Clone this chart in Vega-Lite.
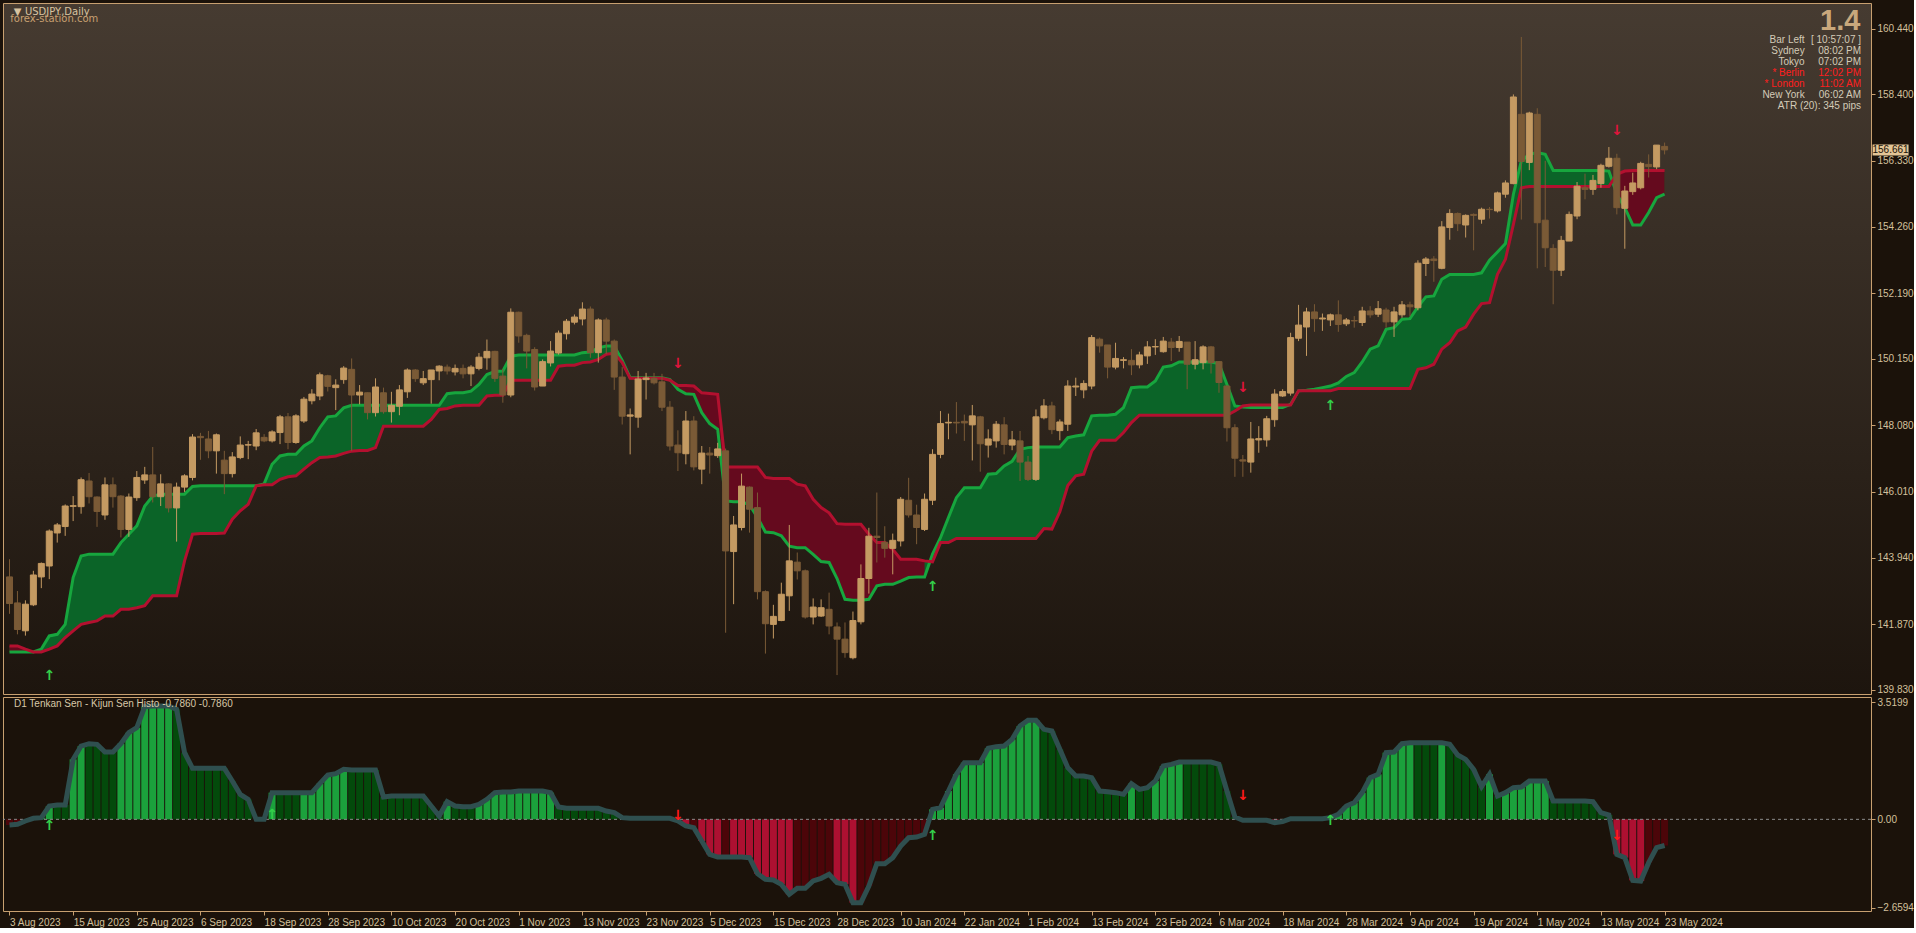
{
"$schema":"https://vega.github.io/schema/vega-lite/v6.json",
"background":"#1b120a",
"padding":{"left":2,"top":2,"right":0,"bottom":0},
"bounds":"flush",
"spacing":3,
"config":{
"font":"Liberation Sans",
"view":{"stroke":"#c8a070","strokeWidth":1},
"axis":{"domain":false,"grid":false,"labelFont":"Liberation Sans","labelFontSize":10,"labelColor":"#d3c09c","tickColor":"#c8a070","tickSize":4,"labelPadding":2,"title":null}
},
"datasets":{
"d":[
{"i":0,"o":143.35,"h":143.9,"l":142.2,"c":142.52,"t":141.01,"k":141.2,"hv":-0.17,"hc":"r","s":"bear","seg":0},
{"i":1,"o":142.54,"h":142.91,"l":141.56,"c":141.71,"t":141.01,"k":141.2,"hv":-0.15,"hc":"r","s":"bear","seg":0},
{"i":2,"o":141.67,"h":142.62,"l":141.52,"c":142.5,"t":141.01,"k":141.1,"hv":-0.05,"hc":"r","s":"bear","seg":0},
{"i":3,"o":142.48,"h":143.54,"l":142.44,"c":143.41,"t":141.01,"k":141.01,"hv":0.03,"hc":"G","s":"bull","seg":1},
{"i":4,"o":143.35,"h":143.8,"l":143.0,"c":143.77,"t":141.1,"k":141.01,"hv":0.05,"hc":"G","s":"bull","seg":1},
{"i":5,"o":143.69,"h":144.83,"l":143.28,"c":144.78,"t":141.51,"k":141.1,"hv":0.4,"hc":"G","s":"bull","seg":1},
{"i":6,"o":144.72,"h":145.03,"l":144.42,"c":144.97,"t":141.56,"k":141.2,"hv":0.43,"hc":"g","s":"bull","seg":1},
{"i":7,"o":144.92,"h":145.61,"l":144.63,"c":145.56,"t":141.87,"k":141.46,"hv":0.43,"hc":"g","s":"bull","seg":1},
{"i":8,"o":145.55,"h":145.87,"l":145.09,"c":145.57,"t":143.33,"k":141.67,"hv":1.8,"hc":"G","s":"bull","seg":1},
{"i":9,"o":145.54,"h":146.45,"l":145.32,"c":146.38,"t":144.0,"k":141.87,"hv":2.2,"hc":"G","s":"bull","seg":1},
{"i":10,"o":146.34,"h":146.59,"l":145.64,"c":145.85,"t":144.06,"k":141.93,"hv":2.27,"hc":"g","s":"bull","seg":1},
{"i":11,"o":145.84,"h":145.86,"l":144.91,"c":145.39,"t":144.06,"k":141.98,"hv":2.25,"hc":"g","s":"bull","seg":1},
{"i":12,"o":145.28,"h":146.45,"l":145.13,"c":146.22,"t":144.06,"k":142.13,"hv":2.02,"hc":"g","s":"bull","seg":1},
{"i":13,"o":146.22,"h":146.45,"l":145.51,"c":145.85,"t":144.06,"k":142.13,"hv":2.02,"hc":"g","s":"bull","seg":1},
{"i":14,"o":145.87,"h":145.9,"l":144.58,"c":144.83,"t":144.42,"k":142.34,"hv":2.27,"hc":"G","s":"bull","seg":1},
{"i":15,"o":144.83,"h":145.95,"l":144.6,"c":145.84,"t":144.68,"k":142.34,"hv":2.6,"hc":"G","s":"bull","seg":1},
{"i":16,"o":145.82,"h":146.65,"l":145.72,"c":146.45,"t":144.94,"k":142.39,"hv":2.75,"hc":"G","s":"bull","seg":1},
{"i":17,"o":146.37,"h":146.78,"l":146.25,"c":146.53,"t":145.56,"k":142.45,"hv":3.38,"hc":"G","s":"bull","seg":1},
{"i":18,"o":146.53,"h":147.4,"l":145.67,"c":145.85,"t":145.87,"k":142.76,"hv":3.4,"hc":"G","s":"bull","seg":1},
{"i":19,"o":145.85,"h":146.55,"l":145.56,"c":146.25,"t":145.93,"k":142.76,"hv":3.4,"hc":"G","s":"bull","seg":1},
{"i":20,"o":146.25,"h":146.27,"l":145.36,"c":145.5,"t":145.93,"k":142.76,"hv":3.4,"hc":"G","s":"bull","seg":1},
{"i":21,"o":145.5,"h":146.29,"l":144.45,"c":146.15,"t":145.93,"k":142.76,"hv":3.3,"hc":"g","s":"bull","seg":1},
{"i":22,"o":146.15,"h":146.55,"l":146.0,"c":146.5,"t":145.93,"k":143.85,"hv":2.0,"hc":"g","s":"bull","seg":1},
{"i":23,"o":146.45,"h":147.8,"l":146.36,"c":147.71,"t":146.17,"k":144.68,"hv":1.53,"hc":"g","s":"bull","seg":1},
{"i":24,"o":147.73,"h":147.84,"l":147.0,"c":147.69,"t":146.19,"k":144.7,"hv":1.53,"hc":"g","s":"bull","seg":1},
{"i":25,"o":147.65,"h":147.9,"l":147.05,"c":147.28,"t":146.19,"k":144.7,"hv":1.53,"hc":"g","s":"bull","seg":1},
{"i":26,"o":147.28,"h":147.82,"l":146.57,"c":147.78,"t":146.19,"k":144.7,"hv":1.53,"hc":"g","s":"bull","seg":1},
{"i":27,"o":146.99,"h":147.28,"l":145.93,"c":146.57,"t":146.19,"k":144.72,"hv":1.53,"hc":"g","s":"bull","seg":1},
{"i":28,"o":146.57,"h":147.24,"l":146.45,"c":147.09,"t":146.19,"k":145.15,"hv":1.15,"hc":"g","s":"bull","seg":1},
{"i":29,"o":147.07,"h":147.73,"l":147.02,"c":147.46,"t":146.19,"k":145.41,"hv":0.75,"hc":"g","s":"bull","seg":1},
{"i":30,"o":147.46,"h":147.59,"l":147.02,"c":147.47,"t":146.19,"k":145.61,"hv":0.6,"hc":"g","s":"bull","seg":1},
{"i":31,"o":147.43,"h":147.96,"l":147.3,"c":147.84,"t":146.19,"k":146.19,"hv":0.0,"hc":"g","s":"bull","seg":1},
{"i":32,"o":147.7,"h":147.8,"l":147.55,"c":147.59,"t":146.25,"k":146.22,"hv":0.0,"hc":"g","s":"bull","seg":1},
{"i":33,"o":147.59,"h":147.92,"l":147.54,"c":147.87,"t":146.86,"k":146.22,"hv":0.8,"hc":"G","s":"bull","seg":1},
{"i":34,"o":147.85,"h":148.4,"l":147.49,"c":148.34,"t":147.12,"k":146.39,"hv":0.8,"hc":"g","s":"bull","seg":1},
{"i":35,"o":148.34,"h":148.46,"l":147.33,"c":147.54,"t":147.17,"k":146.47,"hv":0.8,"hc":"g","s":"bull","seg":1},
{"i":36,"o":147.54,"h":148.42,"l":147.5,"c":148.37,"t":147.17,"k":146.5,"hv":0.8,"hc":"g","s":"bull","seg":1},
{"i":37,"o":148.21,"h":148.96,"l":148.15,"c":148.89,"t":147.43,"k":146.71,"hv":0.8,"hc":"G","s":"bull","seg":1},
{"i":38,"o":148.84,"h":149.2,"l":148.73,"c":149.05,"t":147.59,"k":146.91,"hv":0.8,"hc":"G","s":"bull","seg":1},
{"i":39,"o":148.99,"h":149.72,"l":148.86,"c":149.65,"t":148.0,"k":147.07,"hv":1.07,"hc":"G","s":"bull","seg":1},
{"i":40,"o":149.62,"h":149.65,"l":149.13,"c":149.29,"t":148.34,"k":147.09,"hv":1.33,"hc":"G","s":"bull","seg":1},
{"i":41,"o":149.25,"h":149.51,"l":148.55,"c":149.33,"t":148.37,"k":147.12,"hv":1.37,"hc":"G","s":"bull","seg":1},
{"i":42,"o":149.5,"h":149.92,"l":149.37,"c":149.86,"t":148.62,"k":147.2,"hv":1.5,"hc":"G","s":"bull","seg":1},
{"i":43,"o":149.82,"h":150.16,"l":147.27,"c":149.02,"t":148.7,"k":147.27,"hv":1.48,"hc":"g","s":"bull","seg":1},
{"i":44,"o":149.02,"h":149.33,"l":148.73,"c":149.11,"t":148.7,"k":147.29,"hv":1.48,"hc":"g","s":"bull","seg":1},
{"i":45,"o":149.09,"h":149.1,"l":148.26,"c":148.47,"t":148.7,"k":147.29,"hv":1.48,"hc":"g","s":"bull","seg":1},
{"i":46,"o":148.47,"h":149.54,"l":148.35,"c":149.27,"t":148.7,"k":147.38,"hv":1.48,"hc":"g","s":"bull","seg":1},
{"i":47,"o":149.09,"h":149.25,"l":148.44,"c":148.5,"t":148.7,"k":148.05,"hv":0.67,"hc":"g","s":"bull","seg":1},
{"i":48,"o":148.5,"h":149.12,"l":148.16,"c":148.7,"t":148.7,"k":148.05,"hv":0.7,"hc":"g","s":"bull","seg":1},
{"i":49,"o":148.67,"h":149.33,"l":148.39,"c":149.18,"t":148.7,"k":148.05,"hv":0.7,"hc":"g","s":"bull","seg":1},
{"i":50,"o":149.12,"h":149.85,"l":148.93,"c":149.8,"t":148.7,"k":148.05,"hv":0.7,"hc":"g","s":"bull","seg":1},
{"i":51,"o":149.8,"h":149.83,"l":149.43,"c":149.53,"t":148.7,"k":148.05,"hv":0.7,"hc":"g","s":"bull","seg":1},
{"i":52,"o":149.4,"h":149.77,"l":149.33,"c":149.53,"t":148.7,"k":148.05,"hv":0.7,"hc":"g","s":"bull","seg":1},
{"i":53,"o":149.5,"h":149.8,"l":148.75,"c":149.8,"t":148.7,"k":148.26,"hv":0.4,"hc":"g","s":"bull","seg":1},
{"i":54,"o":149.77,"h":149.95,"l":149.48,"c":149.92,"t":148.7,"k":148.57,"hv":0.1,"hc":"g","s":"bull","seg":1},
{"i":55,"o":149.89,"h":149.97,"l":149.66,"c":149.77,"t":149.06,"k":148.6,"hv":0.53,"hc":"G","s":"bull","seg":1},
{"i":56,"o":149.74,"h":149.97,"l":149.63,"c":149.85,"t":149.09,"k":148.68,"hv":0.4,"hc":"g","s":"bull","seg":1},
{"i":57,"o":149.85,"h":149.97,"l":149.54,"c":149.68,"t":149.09,"k":148.7,"hv":0.38,"hc":"g","s":"bull","seg":1},
{"i":58,"o":149.68,"h":149.95,"l":149.3,"c":149.89,"t":149.14,"k":148.7,"hv":0.38,"hc":"g","s":"bull","seg":1},
{"i":59,"o":149.85,"h":150.33,"l":149.79,"c":150.2,"t":149.35,"k":148.7,"hv":0.45,"hc":"G","s":"bull","seg":1},
{"i":60,"o":150.18,"h":150.75,"l":149.81,"c":150.38,"t":149.66,"k":148.99,"hv":0.6,"hc":"G","s":"bull","seg":1},
{"i":61,"o":150.38,"h":150.4,"l":149.43,"c":149.54,"t":149.75,"k":149.01,"hv":0.8,"hc":"G","s":"bull","seg":1},
{"i":62,"o":149.61,"h":149.83,"l":148.78,"c":149.02,"t":149.77,"k":149.01,"hv":0.82,"hc":"G","s":"bull","seg":1},
{"i":63,"o":149.02,"h":151.72,"l":148.95,"c":151.6,"t":150.23,"k":149.48,"hv":0.82,"hc":"G","s":"bull","seg":1},
{"i":64,"o":151.6,"h":151.62,"l":150.65,"c":150.86,"t":150.27,"k":149.48,"hv":0.85,"hc":"G","s":"bull","seg":1},
{"i":65,"o":150.88,"h":150.93,"l":149.85,"c":150.39,"t":150.27,"k":149.48,"hv":0.85,"hc":"G","s":"bull","seg":1},
{"i":66,"o":150.44,"h":150.51,"l":149.16,"c":149.27,"t":150.27,"k":149.48,"hv":0.85,"hc":"G","s":"bull","seg":1},
{"i":67,"o":149.3,"h":150.13,"l":149.3,"c":150.06,"t":150.27,"k":149.48,"hv":0.85,"hc":"G","s":"bull","seg":1},
{"i":68,"o":150.02,"h":150.7,"l":149.91,"c":150.39,"t":150.27,"k":149.48,"hv":0.8,"hc":"G","s":"bull","seg":1},
{"i":69,"o":150.33,"h":151.03,"l":150.28,"c":150.95,"t":150.27,"k":149.92,"hv":0.37,"hc":"g","s":"bull","seg":1},
{"i":70,"o":150.93,"h":151.39,"l":150.75,"c":151.32,"t":150.27,"k":149.95,"hv":0.33,"hc":"g","s":"bull","seg":1},
{"i":71,"o":151.29,"h":151.53,"l":151.22,"c":151.45,"t":150.27,"k":149.95,"hv":0.33,"hc":"g","s":"bull","seg":1},
{"i":72,"o":151.39,"h":151.91,"l":151.19,"c":151.7,"t":150.34,"k":150.03,"hv":0.33,"hc":"g","s":"bull","seg":1},
{"i":73,"o":151.7,"h":151.78,"l":150.18,"c":150.34,"t":150.36,"k":150.05,"hv":0.33,"hc":"g","s":"bull","seg":1},
{"i":74,"o":150.34,"h":151.41,"l":150.03,"c":151.36,"t":150.49,"k":150.13,"hv":0.33,"hc":"g","s":"bull","seg":1},
{"i":75,"o":151.36,"h":151.43,"l":150.29,"c":150.7,"t":150.55,"k":150.29,"hv":0.25,"hc":"g","s":"bull","seg":1},
{"i":76,"o":150.7,"h":150.75,"l":149.18,"c":149.58,"t":150.55,"k":150.32,"hv":0.2,"hc":"g","s":"bull","seg":1},
{"i":77,"o":149.58,"h":149.89,"l":148.1,"c":148.36,"t":150.1,"k":150.03,"hv":0.05,"hc":"g","s":"bull","seg":1},
{"i":78,"o":148.36,"h":148.6,"l":147.17,"c":148.4,"t":149.56,"k":149.54,"hv":0.03,"hc":"g","s":"bull","seg":1},
{"i":79,"o":148.33,"h":149.77,"l":148.0,"c":149.52,"t":149.56,"k":149.54,"hv":0.03,"hc":"g","s":"bull","seg":1},
{"i":80,"o":149.5,"h":149.71,"l":148.88,"c":149.55,"t":149.56,"k":149.54,"hv":0.03,"hc":"g","s":"bull","seg":1},
{"i":81,"o":149.54,"h":149.71,"l":149.35,"c":149.4,"t":149.56,"k":149.54,"hv":0.03,"hc":"g","s":"bull","seg":1},
{"i":82,"o":149.43,"h":149.68,"l":148.52,"c":148.64,"t":149.56,"k":149.54,"hv":0.03,"hc":"g","s":"bull","seg":1},
{"i":83,"o":148.64,"h":148.83,"l":147.29,"c":147.43,"t":149.5,"k":149.48,"hv":0.03,"hc":"g","s":"bull","seg":1},
{"i":84,"o":147.46,"h":147.92,"l":146.65,"c":147.22,"t":149.2,"k":149.32,"hv":-0.05,"hc":"r","s":"bear","seg":2},
{"i":85,"o":147.19,"h":148.52,"l":146.86,"c":148.21,"t":149.06,"k":149.32,"hv":-0.2,"hc":"R","s":"bear","seg":2},
{"i":86,"o":148.21,"h":148.36,"l":146.67,"c":146.78,"t":149.04,"k":149.3,"hv":-0.25,"hc":"r","s":"bear","seg":2},
{"i":87,"o":146.71,"h":147.43,"l":146.24,"c":147.21,"t":148.47,"k":149.09,"hv":-0.65,"hc":"R","s":"bear","seg":2},
{"i":88,"o":147.21,"h":147.4,"l":146.57,"c":147.15,"t":148.13,"k":149.07,"hv":-1.05,"hc":"R","s":"bear","seg":2},
{"i":89,"o":147.13,"h":147.53,"l":147.06,"c":147.34,"t":147.95,"k":149.04,"hv":-1.13,"hc":"R","s":"bear","seg":2},
{"i":90,"o":147.28,"h":147.35,"l":141.61,"c":144.16,"t":145.72,"k":146.78,"hv":-1.13,"hc":"r","s":"bear","seg":2},
{"i":91,"o":144.14,"h":145.25,"l":142.5,"c":144.97,"t":145.69,"k":146.78,"hv":-1.13,"hc":"R","s":"bear","seg":2},
{"i":92,"o":144.89,"h":146.57,"l":144.8,"c":146.18,"t":145.69,"k":146.78,"hv":-1.13,"hc":"R","s":"bear","seg":2},
{"i":93,"o":146.15,"h":146.17,"l":144.73,"c":145.46,"t":145.6,"k":146.78,"hv":-1.15,"hc":"R","s":"bear","seg":2},
{"i":94,"o":145.51,"h":145.98,"l":142.65,"c":142.89,"t":145.2,"k":146.78,"hv":-1.63,"hc":"R","s":"bear","seg":2},
{"i":95,"o":142.89,"h":142.93,"l":140.96,"c":141.89,"t":144.75,"k":146.45,"hv":-1.8,"hc":"R","s":"bear","seg":2},
{"i":96,"o":141.87,"h":142.48,"l":141.43,"c":142.12,"t":144.73,"k":146.42,"hv":-1.82,"hc":"R","s":"bear","seg":2},
{"i":97,"o":141.99,"h":143.17,"l":141.97,"c":142.81,"t":144.63,"k":146.42,"hv":-1.95,"hc":"R","s":"bear","seg":2},
{"i":98,"o":142.76,"h":144.97,"l":142.29,"c":143.85,"t":144.31,"k":146.42,"hv":-2.25,"hc":"R","s":"bear","seg":2},
{"i":99,"o":143.81,"h":144.11,"l":143.27,"c":143.54,"t":144.26,"k":146.24,"hv":-2.07,"hc":"r","s":"bear","seg":2},
{"i":100,"o":143.54,"h":143.58,"l":142.05,"c":142.1,"t":144.26,"k":146.19,"hv":-2.07,"hc":"r","s":"bear","seg":2},
{"i":101,"o":142.1,"h":142.68,"l":141.87,"c":142.41,"t":144.05,"k":145.77,"hv":-1.85,"hc":"r","s":"bear","seg":2},
{"i":102,"o":142.13,"h":142.65,"l":142.1,"c":142.39,"t":143.83,"k":145.51,"hv":-1.77,"hc":"r","s":"bear","seg":2},
{"i":103,"o":142.34,"h":142.86,"l":141.56,"c":141.82,"t":143.8,"k":145.35,"hv":-1.65,"hc":"r","s":"bear","seg":2},
{"i":104,"o":141.79,"h":141.93,"l":140.29,"c":141.41,"t":143.3,"k":145.01,"hv":-1.9,"hc":"R","s":"bear","seg":2},
{"i":105,"o":141.41,"h":141.93,"l":140.83,"c":140.99,"t":142.65,"k":144.99,"hv":-1.95,"hc":"R","s":"bear","seg":2},
{"i":106,"o":140.83,"h":142.27,"l":140.78,"c":141.99,"t":142.62,"k":144.99,"hv":-2.5,"hc":"R","s":"bear","seg":2},
{"i":107,"o":141.95,"h":143.74,"l":141.87,"c":143.3,"t":142.62,"k":144.99,"hv":-2.5,"hc":"r","s":"bear","seg":2},
{"i":108,"o":143.3,"h":144.88,"l":142.83,"c":144.62,"t":142.65,"k":144.68,"hv":-2.0,"hc":"r","s":"bear","seg":2},
{"i":109,"o":144.62,"h":145.98,"l":143.8,"c":144.58,"t":143.07,"k":144.42,"hv":-1.33,"hc":"r","s":"bear","seg":2},
{"i":110,"o":144.43,"h":144.93,"l":143.95,"c":144.24,"t":143.12,"k":144.42,"hv":-1.33,"hc":"r","s":"bear","seg":2},
{"i":111,"o":144.24,"h":144.7,"l":143.43,"c":144.49,"t":143.12,"k":144.21,"hv":-1.15,"hc":"r","s":"bear","seg":2},
{"i":112,"o":144.47,"h":145.84,"l":144.3,"c":145.77,"t":143.22,"k":143.9,"hv":-0.8,"hc":"r","s":"bear","seg":2},
{"i":113,"o":145.74,"h":146.44,"l":145.2,"c":145.28,"t":143.33,"k":143.9,"hv":-0.55,"hc":"r","s":"bear","seg":2},
{"i":114,"o":145.28,"h":145.6,"l":144.37,"c":144.89,"t":143.35,"k":143.9,"hv":-0.53,"hc":"r","s":"bear","seg":2},
{"i":115,"o":144.83,"h":145.95,"l":144.78,"c":145.77,"t":143.35,"k":143.85,"hv":-0.45,"hc":"r","s":"bear","seg":2},
{"i":116,"o":145.74,"h":147.33,"l":145.59,"c":147.17,"t":144.06,"k":143.82,"hv":0.3,"hc":"G","s":"bull","seg":3},
{"i":117,"o":147.17,"h":148.52,"l":147.05,"c":148.13,"t":144.57,"k":144.42,"hv":0.35,"hc":"G","s":"bull","seg":3},
{"i":118,"o":148.15,"h":148.44,"l":147.64,"c":148.17,"t":145.2,"k":144.42,"hv":0.85,"hc":"G","s":"bull","seg":3},
{"i":119,"o":148.17,"h":148.8,"l":147.82,"c":148.15,"t":145.82,"k":144.55,"hv":1.35,"hc":"G","s":"bull","seg":3},
{"i":120,"o":148.2,"h":148.41,"l":147.59,"c":148.15,"t":146.13,"k":144.55,"hv":1.7,"hc":"G","s":"bull","seg":3},
{"i":121,"o":148.09,"h":148.71,"l":146.98,"c":148.37,"t":146.13,"k":144.55,"hv":1.7,"hc":"G","s":"bull","seg":3},
{"i":122,"o":148.34,"h":148.37,"l":146.63,"c":147.5,"t":146.13,"k":144.55,"hv":1.7,"hc":"G","s":"bull","seg":3},
{"i":123,"o":147.46,"h":147.95,"l":147.07,"c":147.65,"t":146.55,"k":144.55,"hv":2.13,"hc":"G","s":"bull","seg":3},
{"i":124,"o":147.59,"h":148.21,"l":147.38,"c":148.11,"t":146.57,"k":144.55,"hv":2.18,"hc":"G","s":"bull","seg":3},
{"i":125,"o":148.09,"h":148.33,"l":147.17,"c":147.48,"t":146.81,"k":144.55,"hv":2.2,"hc":"G","s":"bull","seg":3},
{"i":126,"o":147.46,"h":147.9,"l":147.3,"c":147.62,"t":146.95,"k":144.55,"hv":2.4,"hc":"G","s":"bull","seg":3},
{"i":127,"o":147.59,"h":147.9,"l":146.34,"c":146.93,"t":147.33,"k":144.55,"hv":2.8,"hc":"G","s":"bull","seg":3},
{"i":128,"o":146.93,"h":147.12,"l":146.34,"c":146.39,"t":147.38,"k":144.55,"hv":2.97,"hc":"G","s":"bull","seg":3},
{"i":129,"o":146.39,"h":148.57,"l":146.34,"c":148.34,"t":147.4,"k":144.55,"hv":2.97,"hc":"G","s":"bull","seg":3},
{"i":130,"o":148.31,"h":148.89,"l":148.26,"c":148.68,"t":147.4,"k":144.86,"hv":2.7,"hc":"g","s":"bull","seg":3},
{"i":131,"o":148.68,"h":148.81,"l":147.8,"c":147.94,"t":147.4,"k":144.84,"hv":2.65,"hc":"g","s":"bull","seg":3},
{"i":132,"o":147.91,"h":148.26,"l":147.61,"c":148.18,"t":147.4,"k":145.38,"hv":2.1,"hc":"g","s":"bull","seg":3},
{"i":133,"o":148.11,"h":149.48,"l":147.9,"c":149.3,"t":147.69,"k":146.2,"hv":1.55,"hc":"g","s":"bull","seg":3},
{"i":134,"o":149.27,"h":149.56,"l":148.99,"c":149.3,"t":147.74,"k":146.5,"hv":1.3,"hc":"g","s":"bull","seg":3},
{"i":135,"o":149.18,"h":149.48,"l":148.92,"c":149.38,"t":147.78,"k":146.55,"hv":1.3,"hc":"g","s":"bull","seg":3},
{"i":136,"o":149.3,"h":150.89,"l":149.2,"c":150.81,"t":148.37,"k":147.27,"hv":1.25,"hc":"g","s":"bull","seg":3},
{"i":137,"o":150.76,"h":150.81,"l":150.34,"c":150.55,"t":148.39,"k":147.61,"hv":0.85,"hc":"g","s":"bull","seg":3},
{"i":138,"o":150.58,"h":150.58,"l":149.54,"c":149.89,"t":148.39,"k":147.61,"hv":0.83,"hc":"g","s":"bull","seg":3},
{"i":139,"o":149.89,"h":150.65,"l":149.82,"c":150.16,"t":148.42,"k":147.61,"hv":0.8,"hc":"g","s":"bull","seg":3},
{"i":140,"o":150.1,"h":150.2,"l":149.85,"c":150.12,"t":148.63,"k":147.85,"hv":0.75,"hc":"g","s":"bull","seg":3},
{"i":141,"o":150.1,"h":150.45,"l":149.64,"c":149.96,"t":149.25,"k":148.16,"hv":1.07,"hc":"G","s":"bull","seg":3},
{"i":142,"o":149.96,"h":150.37,"l":149.85,"c":150.27,"t":149.27,"k":148.39,"hv":0.9,"hc":"g","s":"bull","seg":3},
{"i":143,"o":150.24,"h":150.7,"l":149.99,"c":150.52,"t":149.27,"k":148.39,"hv":0.95,"hc":"g","s":"bull","seg":3},
{"i":144,"o":150.52,"h":150.76,"l":150.27,"c":150.53,"t":149.46,"k":148.39,"hv":1.15,"hc":"G","s":"bull","seg":3},
{"i":145,"o":150.37,"h":150.83,"l":150.34,"c":150.7,"t":149.89,"k":148.39,"hv":1.6,"hc":"G","s":"bull","seg":3},
{"i":146,"o":150.67,"h":150.8,"l":150.08,"c":150.5,"t":149.93,"k":148.39,"hv":1.65,"hc":"G","s":"bull","seg":3},
{"i":147,"o":150.5,"h":150.86,"l":150.37,"c":150.69,"t":150.05,"k":148.39,"hv":1.72,"hc":"G","s":"bull","seg":3},
{"i":148,"o":150.67,"h":150.67,"l":149.2,"c":149.98,"t":150.05,"k":148.39,"hv":1.72,"hc":"g","s":"bull","seg":3},
{"i":149,"o":149.98,"h":150.7,"l":149.82,"c":150.12,"t":150.05,"k":148.39,"hv":1.72,"hc":"g","s":"bull","seg":3},
{"i":150,"o":150.03,"h":150.57,"l":149.82,"c":150.52,"t":150.05,"k":148.39,"hv":1.72,"hc":"g","s":"bull","seg":3},
{"i":151,"o":150.52,"h":150.55,"l":149.69,"c":150.03,"t":150.05,"k":148.39,"hv":1.72,"hc":"g","s":"bull","seg":3},
{"i":152,"o":150.06,"h":150.08,"l":149.09,"c":149.41,"t":150.0,"k":148.39,"hv":1.65,"hc":"g","s":"bull","seg":3},
{"i":153,"o":149.3,"h":149.33,"l":147.57,"c":148.0,"t":149.35,"k":148.39,"hv":0.85,"hc":"g","s":"bull","seg":3},
{"i":154,"o":148.0,"h":148.11,"l":146.47,"c":147.05,"t":148.68,"k":148.52,"hv":0.07,"hc":"g","s":"bull","seg":3},
{"i":155,"o":147.0,"h":147.15,"l":146.47,"c":146.96,"t":148.65,"k":148.68,"hv":-0.03,"hc":"r","s":"bear","seg":4},
{"i":156,"o":146.93,"h":148.18,"l":146.6,"c":147.65,"t":148.63,"k":148.71,"hv":-0.03,"hc":"r","s":"bear","seg":4},
{"i":157,"o":147.62,"h":148.05,"l":147.22,"c":147.66,"t":148.63,"k":148.71,"hv":-0.03,"hc":"r","s":"bear","seg":4},
{"i":158,"o":147.62,"h":148.37,"l":147.41,"c":148.28,"t":148.63,"k":148.71,"hv":-0.03,"hc":"r","s":"bear","seg":4},
{"i":159,"o":148.25,"h":149.2,"l":148.03,"c":149.05,"t":148.63,"k":148.71,"hv":-0.1,"hc":"R","s":"bear","seg":4},
{"i":160,"o":148.99,"h":149.2,"l":148.96,"c":149.13,"t":148.63,"k":148.71,"hv":-0.07,"hc":"r","s":"bear","seg":4},
{"i":161,"o":149.08,"h":150.96,"l":149.0,"c":150.81,"t":148.73,"k":148.71,"hv":0.02,"hc":"G","s":"bull","seg":5},
{"i":162,"o":150.79,"h":151.83,"l":150.7,"c":151.2,"t":149.15,"k":149.15,"hv":0.02,"hc":"G","s":"bull","seg":5},
{"i":163,"o":151.14,"h":151.74,"l":150.24,"c":151.61,"t":149.17,"k":149.15,"hv":0.02,"hc":"G","s":"bull","seg":5},
{"i":164,"o":151.61,"h":151.85,"l":150.99,"c":151.4,"t":149.2,"k":149.15,"hv":0.02,"hc":"G","s":"bull","seg":5},
{"i":165,"o":151.39,"h":151.56,"l":151.02,"c":151.42,"t":149.25,"k":149.15,"hv":0.02,"hc":"G","s":"bull","seg":5},
{"i":166,"o":151.36,"h":151.56,"l":151.17,"c":151.52,"t":149.3,"k":149.15,"hv":0.05,"hc":"G","s":"bull","seg":5},
{"i":167,"o":151.52,"h":151.97,"l":150.99,"c":151.22,"t":149.4,"k":149.22,"hv":0.15,"hc":"G","s":"bull","seg":5},
{"i":168,"o":151.24,"h":151.42,"l":151.17,"c":151.36,"t":149.6,"k":149.22,"hv":0.4,"hc":"G","s":"bull","seg":5},
{"i":169,"o":151.34,"h":151.48,"l":151.12,"c":151.33,"t":149.72,"k":149.22,"hv":0.5,"hc":"G","s":"bull","seg":5},
{"i":170,"o":151.28,"h":151.77,"l":151.17,"c":151.64,"t":150.05,"k":149.22,"hv":0.8,"hc":"G","s":"bull","seg":5},
{"i":171,"o":151.64,"h":151.79,"l":151.43,"c":151.52,"t":150.45,"k":149.22,"hv":1.25,"hc":"G","s":"bull","seg":5},
{"i":172,"o":151.54,"h":151.95,"l":151.45,"c":151.71,"t":150.55,"k":149.22,"hv":1.35,"hc":"G","s":"bull","seg":5},
{"i":173,"o":151.67,"h":151.74,"l":151.12,"c":151.3,"t":151.07,"k":149.22,"hv":2.0,"hc":"G","s":"bull","seg":5},
{"i":174,"o":151.3,"h":151.77,"l":150.83,"c":151.61,"t":151.12,"k":149.22,"hv":2.02,"hc":"G","s":"bull","seg":5},
{"i":175,"o":151.52,"h":151.95,"l":151.43,"c":151.83,"t":151.38,"k":149.22,"hv":2.27,"hc":"G","s":"bull","seg":5},
{"i":176,"o":151.83,"h":151.93,"l":151.48,"c":151.77,"t":151.4,"k":149.22,"hv":2.3,"hc":"G","s":"bull","seg":5},
{"i":177,"o":151.74,"h":153.22,"l":151.66,"c":153.13,"t":151.77,"k":149.82,"hv":2.3,"hc":"g","s":"bull","seg":5},
{"i":178,"o":153.12,"h":153.32,"l":152.73,"c":153.26,"t":152.08,"k":149.87,"hv":2.3,"hc":"g","s":"bull","seg":5},
{"i":179,"o":153.26,"h":153.35,"l":152.55,"c":153.21,"t":152.11,"k":149.98,"hv":2.3,"hc":"g","s":"bull","seg":5},
{"i":180,"o":152.97,"h":154.44,"l":152.94,"c":154.26,"t":152.63,"k":150.45,"hv":2.3,"hc":"G","s":"bull","seg":5},
{"i":181,"o":154.24,"h":154.81,"l":153.86,"c":154.68,"t":152.78,"k":150.65,"hv":2.25,"hc":"g","s":"bull","seg":5},
{"i":182,"o":154.68,"h":154.71,"l":154.13,"c":154.36,"t":152.78,"k":151.02,"hv":1.93,"hc":"g","s":"bull","seg":5},
{"i":183,"o":154.32,"h":154.65,"l":153.93,"c":154.62,"t":152.78,"k":151.14,"hv":1.8,"hc":"g","s":"bull","seg":5},
{"i":184,"o":154.65,"h":154.68,"l":153.53,"c":154.62,"t":152.78,"k":151.54,"hv":1.5,"hc":"g","s":"bull","seg":5},
{"i":185,"o":154.5,"h":154.86,"l":154.36,"c":154.81,"t":152.83,"k":151.87,"hv":0.98,"hc":"g","s":"bull","seg":5},
{"i":186,"o":154.81,"h":154.88,"l":154.52,"c":154.8,"t":153.22,"k":151.9,"hv":1.35,"hc":"G","s":"bull","seg":5},
{"i":187,"o":154.76,"h":155.36,"l":154.71,"c":155.32,"t":153.48,"k":152.78,"hv":0.7,"hc":"g","s":"bull","seg":5},
{"i":188,"o":155.28,"h":155.71,"l":155.17,"c":155.63,"t":153.74,"k":153.25,"hv":0.8,"hc":"G","s":"bull","seg":5},
{"i":189,"o":155.61,"h":158.39,"l":155.59,"c":158.31,"t":155.28,"k":154.34,"hv":0.95,"hc":"G","s":"bull","seg":5},
{"i":190,"o":157.77,"h":160.18,"l":154.49,"c":156.3,"t":156.32,"k":155.48,"hv":0.97,"hc":"G","s":"bull","seg":5},
{"i":191,"o":156.27,"h":157.85,"l":156.03,"c":157.81,"t":156.52,"k":155.52,"hv":1.15,"hc":"G","s":"bull","seg":5},
{"i":192,"o":157.77,"h":157.96,"l":152.97,"c":154.39,"t":156.58,"k":155.52,"hv":1.15,"hc":"G","s":"bull","seg":5},
{"i":193,"o":154.47,"h":156.32,"l":153.01,"c":153.61,"t":156.52,"k":155.52,"hv":1.15,"hc":"G","s":"bull","seg":5},
{"i":194,"o":153.59,"h":153.72,"l":151.85,"c":152.91,"t":156.02,"k":155.52,"hv":0.55,"hc":"g","s":"bull","seg":5},
{"i":195,"o":152.91,"h":153.98,"l":152.73,"c":153.84,"t":156.02,"k":155.52,"hv":0.55,"hc":"g","s":"bull","seg":5},
{"i":196,"o":153.82,"h":154.74,"l":153.82,"c":154.65,"t":156.02,"k":155.52,"hv":0.55,"hc":"g","s":"bull","seg":5},
{"i":197,"o":154.6,"h":155.66,"l":154.5,"c":155.53,"t":156.02,"k":155.52,"hv":0.55,"hc":"g","s":"bull","seg":5},
{"i":198,"o":155.48,"h":155.92,"l":155.12,"c":155.43,"t":156.02,"k":155.52,"hv":0.55,"hc":"g","s":"bull","seg":5},
{"i":199,"o":155.43,"h":155.88,"l":155.26,"c":155.71,"t":156.02,"k":155.52,"hv":0.53,"hc":"g","s":"bull","seg":5},
{"i":200,"o":155.61,"h":156.23,"l":155.48,"c":156.18,"t":156.02,"k":155.52,"hv":0.2,"hc":"g","s":"bull","seg":5},
{"i":201,"o":156.15,"h":156.75,"l":156.11,"c":156.4,"t":156.0,"k":155.52,"hv":0.13,"hc":"g","s":"bull","seg":5},
{"i":202,"o":156.4,"h":156.54,"l":154.65,"c":154.86,"t":155.28,"k":155.9,"hv":-1.05,"hc":"R","s":"bear","seg":6},
{"i":203,"o":154.84,"h":155.54,"l":153.58,"c":155.38,"t":154.86,"k":156.0,"hv":-1.15,"hc":"R","s":"bear","seg":6},
{"i":204,"o":155.36,"h":155.95,"l":155.26,"c":155.63,"t":154.32,"k":156.02,"hv":-1.83,"hc":"R","s":"bear","seg":6},
{"i":205,"o":155.48,"h":156.29,"l":155.43,"c":156.24,"t":154.32,"k":156.02,"hv":-1.85,"hc":"R","s":"bear","seg":6},
{"i":206,"o":156.21,"h":156.52,"l":155.8,"c":156.14,"t":154.71,"k":156.02,"hv":-1.3,"hc":"r","s":"bear","seg":6},
{"i":207,"o":156.13,"h":156.81,"l":156.06,"c":156.81,"t":155.17,"k":156.02,"hv":-0.85,"hc":"r","s":"bear","seg":6},
{"i":208,"o":156.77,"h":156.89,"l":156.52,"c":156.661,"t":155.28,"k":156.02,"hv":-0.786,"hc":"r","s":"bear","seg":6}
],
"marr":[
{"i":5,"y":140.26,"dir":"up"},{"i":84,"y":150.0,"dir":"down"},{"i":116,"y":143.02,"dir":"up"},
{"i":155,"y":149.25,"dir":"down"},{"i":166,"y":148.68,"dir":"up"},{"i":202,"y":157.25,"dir":"down"}
],
"harr":[
{"i":5,"y":-0.2,"dir":"up"},{"i":33,"y":0.14,"dir":"up"},{"i":84,"y":0.1,"dir":"down"},{"i":116,"y":-0.49,"dir":"up"},
{"i":155,"y":0.7,"dir":"down"},{"i":166,"y":-0.05,"dir":"up"},{"i":202,"y":-0.5,"dir":"down"}
],
"notes":[
{"x":225.6,"y":160.09,"text":"Bar Left","g":"info"},
{"x":232.69,"y":160.09,"text":"[ 10:57:07 ]","g":"info"},
{"x":225.6,"y":159.745,"text":"Sydney","g":"info"},
{"x":232.69,"y":159.745,"text":"08:02 PM","g":"info"},
{"x":225.6,"y":159.4,"text":"Tokyo","g":"info"},
{"x":232.69,"y":159.4,"text":"07:02 PM","g":"info"},
{"x":225.6,"y":159.07,"text":"* Berlin","g":"alert"},
{"x":232.69,"y":159.07,"text":"12:02 PM","g":"alert"},
{"x":225.6,"y":158.73,"text":"* London","g":"alert"},
{"x":232.69,"y":158.73,"text":"11:02 AM","g":"alert"},
{"x":225.6,"y":158.38,"text":"New York","g":"info"},
{"x":232.69,"y":158.38,"text":"06:02 AM","g":"info"},
{"x":232.69,"y":158.03,"text":"ATR (20): 345 pips","g":"info"}
],
"big":[{"x":232.6,"y":160.68,"text":"1.4"}],
"head":[
{"x":0.55,"y":160.97,"text":"▼","g":"tri"},
{"x":1.94,"y":160.97,"text":"USDJPY,Daily","g":"sym"},
{"x":0.1,"y":160.73,"text":"forex-station.com","g":"site"}
],
"price":[{"x":236.4,"y":156.661,"text":"156.661"}],
"htitle":[{"x":0.56,"y":3.47,"text":"D1  Tenkan Sen - Kijun Sen Histo -0.7860 -0.7860"}]
},
"vconcat":[
{
"width":1868,"height":691,
"view":{"fill":{"gradient":"linear","x1":0,"y1":0,"x2":0,"y2":1,"stops":[{"offset":0,"color":"#463b31"},{"offset":1,"color":"#1d150e"}]},"stroke":"#c8a070"},
"layer":[
{"data":{"name":"d"},"mark":{"type":"area","fill":"#0b6428","clip":true},
 "encoding":{"x":{"field":"i","type":"quantitative","scale":{"domain":[-0.1875,233.3125],"nice":false,"zero":false},"axis":null},
 "y":{"field":"t","type":"quantitative","scale":{"domain":[139.70,161.24],"nice":false,"zero":false},
  "axis":{"orient":"right","values":[139.83,140.85,141.87,142.92,143.94,144.99,146.01,147.03,148.08,149.1,150.15,151.17,152.19,153.24,154.26,155.28,156.33,157.35,158.4,159.42,160.44],"format":".3f","labelOverlap":false,"labelBound":false}},
 "y2":{"field":"k"}}},
{"data":{"name":"d"},"transform":[{"filter":"datum.s == 'bear'"}],"mark":{"type":"area","fill":"#650a1e","clip":true},
 "encoding":{"x":{"field":"i","type":"quantitative"},"y":{"field":"t","type":"quantitative"},"y2":{"field":"k"},"detail":{"field":"seg","type":"nominal"}}},
{"data":{"name":"d"},"mark":{"type":"line","stroke":"#17a63e","strokeWidth":3,"clip":true},
 "encoding":{"x":{"field":"i","type":"quantitative"},"y":{"field":"t","type":"quantitative"}}},
{"data":{"name":"d"},"mark":{"type":"line","stroke":"#b3102f","strokeWidth":3,"clip":true},
 "encoding":{"x":{"field":"i","type":"quantitative"},"y":{"field":"k","type":"quantitative"}}},
{"data":{"name":"d"},"mark":{"type":"rule","strokeWidth":1,"clip":true},
 "encoding":{"x":{"field":"i","type":"quantitative"},"y":{"field":"l","type":"quantitative"},"y2":{"field":"h"},
 "color":{"condition":{"test":"datum.c >= datum.o","value":"#c49a62"},"value":"#7a5a36"}}},
{"data":{"name":"d"},"mark":{"type":"bar","width":6,"strokeWidth":1,"clip":true},
 "encoding":{"x":{"field":"i","type":"quantitative"},"y":{"field":"o","type":"quantitative"},"y2":{"field":"c"},
 "fill":{"condition":{"test":"datum.c >= datum.o","value":"#c49a62"},"value":"#7a5a36"},
 "stroke":{"condition":{"test":"datum.c >= datum.o","value":"#c49a62"},"value":"#7a5a36"}}},
{"data":{"name":"marr"},"transform":[{"filter":"datum.dir == 'up'"}],
 "mark":{"type":"text","text":"↑","font":"DejaVu Sans","fontWeight":"bold","fontSize":14,"color":"#34d04a","align":"center","baseline":"middle"},
 "encoding":{"x":{"field":"i","type":"quantitative"},"y":{"field":"y","type":"quantitative"}}},
{"data":{"name":"marr"},"transform":[{"filter":"datum.dir == 'down'"}],
 "mark":{"type":"text","text":"↓","font":"DejaVu Sans","fontWeight":"bold","fontSize":14,"color":"#e0143c","align":"center","baseline":"middle"},
 "encoding":{"x":{"field":"i","type":"quantitative"},"y":{"field":"y","type":"quantitative"}}},
{"data":{"name":"notes"},
 "mark":{"type":"text","align":"right","baseline":"middle","fontSize":10,"font":"Liberation Sans"},
 "encoding":{"x":{"field":"x","type":"quantitative"},"y":{"field":"y","type":"quantitative"},"text":{"field":"text"},
 "color":{"condition":{"test":"datum.g == 'alert'","value":"#ff1e1e"},"value":"#d4cbb8"}}},
{"data":{"name":"big"},
 "mark":{"type":"text","align":"right","baseline":"middle","fontSize":29,"fontWeight":"bold","font":"Liberation Sans","color":"#c9a87c"},
 "encoding":{"x":{"field":"x","type":"quantitative"},"y":{"field":"y","type":"quantitative"},"text":{"field":"text"}}},
{"data":{"name":"head"},
 "mark":{"type":"text","align":"left","baseline":"middle","fontSize":10,"font":"DejaVu Sans"},
 "encoding":{"x":{"field":"x","type":"quantitative"},"y":{"field":"y","type":"quantitative"},"text":{"field":"text"},
 "color":{"condition":{"test":"datum.g == 'site'","value":"#c8a070"},"value":"#d8c3a0"}}},
{"data":{"name":"price"},
 "mark":{"type":"point","shape":"M-1,-0.3056L1,-0.3056L1,0.3056L-1,0.3056Z","size":1296,"filled":true,"fill":"#e3c596","opacity":1,"strokeWidth":0},
 "encoding":{"x":{"field":"x","type":"quantitative"},"y":{"field":"y","type":"quantitative"}}},
{"data":{"name":"price"},
 "mark":{"type":"text","align":"center","baseline":"middle","fontSize":10,"font":"Liberation Sans","color":"#1a1208"},
 "encoding":{"x":{"field":"x","type":"quantitative"},"y":{"field":"y","type":"quantitative"},"text":{"field":"text"}}}
]
},
{
"width":1868,"height":214,
"view":{"fill":"#1b120a","stroke":"#c8a070"},
"layer":[
{"data":{"name":"d"},"mark":{"type":"bar","width":7,"clip":true},
 "encoding":{"x":{"field":"i","type":"quantitative","scale":{"domain":[-0.1875,233.3125],"nice":false,"zero":false},
  "axis":{"orient":"bottom","values":[0,8,16,24,32,40,48,56,64,72,80,88,96,104,112,120,128,136,144,152,160,168,176,184,192,200,208],
  "labelExpr":"['3 Aug 2023','15 Aug 2023','25 Aug 2023','6 Sep 2023','18 Sep 2023','28 Sep 2023','10 Oct 2023','20 Oct 2023','1 Nov 2023','13 Nov 2023','23 Nov 2023','5 Dec 2023','15 Dec 2023','28 Dec 2023','10 Jan 2024','22 Jan 2024','1 Feb 2024','13 Feb 2024','23 Feb 2024','6 Mar 2024','18 Mar 2024','28 Mar 2024','9 Apr 2024','19 Apr 2024','1 May 2024','13 May 2024','23 May 2024'][round(datum.value/8)]",
  "labelAlign":"left","labelDx":1,"labelOverlap":false,"labelFlush":false,"labelBound":false}},
 "y":{"field":"hv","type":"quantitative","scale":{"domain":[-2.75,3.67],"nice":false,"zero":false},
  "axis":{"orient":"right","values":[3.5199,0,-2.6594],"labelOverlap":false,"labelBound":false,"labelExpr":"datum.value == 0 ? '0.00' : format(datum.value, '.4f')"}},
 "y2":{"datum":0},
 "color":{"condition":[{"test":"datum.hc == 'G'","value":"#1ba13c"},{"test":"datum.hc == 'g'","value":"#034a0b"},{"test":"datum.hc == 'R'","value":"#ad1031"}],"value":"#4c0509"}}},
{"data":{"values":[{}]},"mark":{"type":"rule","stroke":"#8c8c8c","strokeDash":[3,3],"strokeWidth":1,"clip":true},"encoding":{"y":{"datum":0}}},
{"data":{"name":"d"},"mark":{"type":"line","stroke":"#2f4f4f","strokeWidth":5,"clip":true},
 "encoding":{"x":{"field":"i","type":"quantitative"},"y":{"field":"hv","type":"quantitative"}}},
{"data":{"name":"harr"},"transform":[{"filter":"datum.dir == 'up'"}],
 "mark":{"type":"text","text":"↑","font":"DejaVu Sans","fontWeight":"bold","fontSize":14,"color":"#34d04a","align":"center","baseline":"middle"},
 "encoding":{"x":{"field":"i","type":"quantitative"},"y":{"field":"y","type":"quantitative"}}},
{"data":{"name":"harr"},"transform":[{"filter":"datum.dir == 'down'"}],
 "mark":{"type":"text","text":"↓","font":"DejaVu Sans","fontWeight":"bold","fontSize":14,"color":"#ff1a1a","align":"center","baseline":"middle"},
 "encoding":{"x":{"field":"i","type":"quantitative"},"y":{"field":"y","type":"quantitative"}}},
{"data":{"name":"htitle"},
 "mark":{"type":"text","align":"left","baseline":"middle","fontSize":10,"font":"Liberation Sans","color":"#d8c8a8"},
 "encoding":{"x":{"field":"x","type":"quantitative"},"y":{"field":"y","type":"quantitative"},"text":{"field":"text"}}}
]
}
]
}
